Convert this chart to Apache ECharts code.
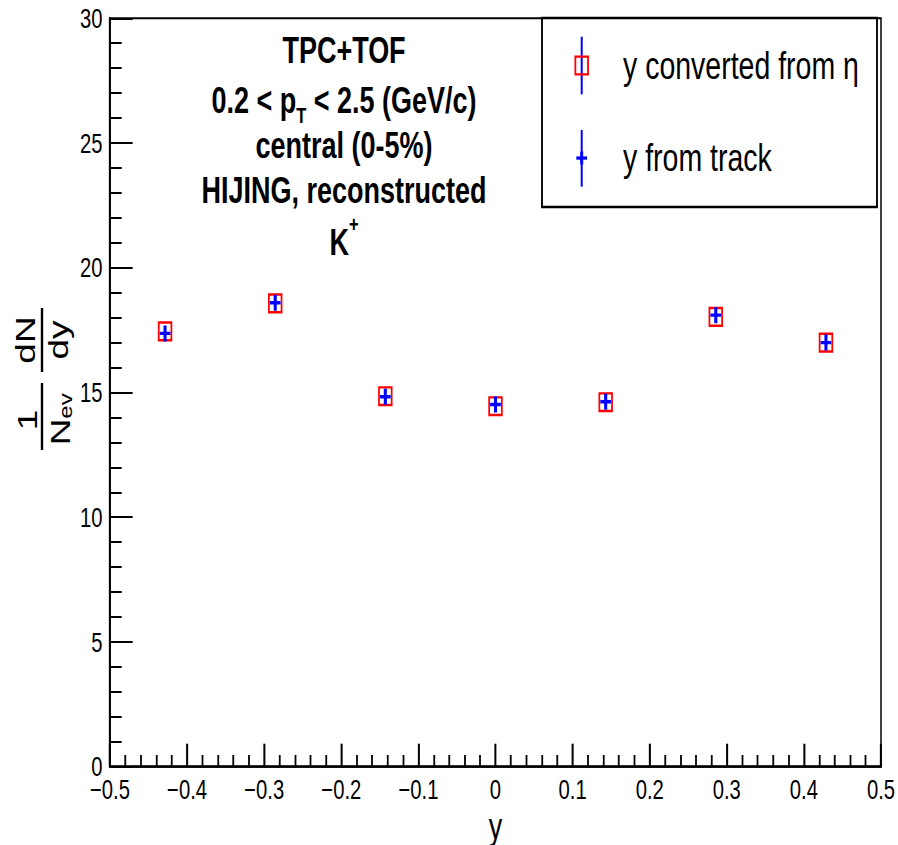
<!DOCTYPE html>
<html>
<head>
<meta charset="utf-8">
<script src="https://cdn.jsdelivr.net/npm/echarts@6/dist/echarts.min.js"></script>
<style>
  html, body { margin: 0; padding: 0; background: #fff; overflow: hidden; }
  #wrap { width: 898px; height: 845px; overflow: hidden; }
  #chart { transform: scaleX(0.75); transform-origin: 0 0; }
</style>
</head>
<body>
<div id="wrap"><div id="chart"></div></div>
<script>
// bin centres in rapidity (7 bins over -0.5..0.5)
const xBins = [-0.4286, -0.2857, -0.1429, 0, 0.1429, 0.2857, 0.4286];
// 1/N_ev dN/dy, rapidity converted from pseudorapidity
const yConverted = [17.45, 18.57, 14.85, 14.45, 14.61, 18.03, 17.0];
// 1/N_ev dN/dy, rapidity taken from the track
const yTrack = [17.37, 18.60, 14.83, 14.52, 14.63, 18.10, 17.0];

const seriesNames = ['y converted from \u03b7', 'y from track'];
const titleLines = ['TPC+TOF', 'central (0-5%)', 'HIJING, reconstructed'];

// the canvas is drawn wide and squeezed horizontally by S
const S = 0.75;
const W = 898 / S, H = 845;
const sx = v => v / S;

const FONT = '"Liberation Sans", Arial, Helvetica, sans-serif';

const el = document.getElementById('chart');
el.style.width = W + 'px';
el.style.height = H + 'px';
const chart = echarts.init(el, null, { renderer: 'svg', width: W, height: H });

const plusPath = 'path://M5,0 L9,0 L9,6.3 L14,6.3 L14,9.7 L9,9.7 L9,16 L5,16 L5,9.7 L0,9.7 L0,6.3 L5,6.3 Z';
const redBox = [16.9, 17.7];
const plusSize = [14.3, 16];

// ---- annotation block (centered) ----
const cx = sx(344);
const TS = 36, SUB = 22;
const graphics = [];
function centerText(str, y) {
  graphics.push({ type: 'text', x: cx, y: y, silent: true,
    style: { text: str, font: 'bold ' + TS + 'px ' + FONT, fill: '#000', align: 'center', verticalAlign: 'middle', lineHeight: 30 } });
}
centerText(titleLines[0], 51);
// 0.2 < p_T < 2.5 (GeV/c), subscript drawn as a rich-text token
graphics.push({ type: 'text', x: cx, y: 98, silent: true,
  style: {
    text: '{a|0.2 < p}{s|T}{a| < 2.5 (GeV/c)}',
    align: 'center', verticalAlign: 'middle',
    rich: {
      a: { font: 'bold ' + TS + 'px ' + FONT, fill: '#000', lineHeight: 30, verticalAlign: 'top' },
      s: { font: 'bold ' + SUB + 'px ' + FONT, fill: '#000', lineHeight: 16, verticalAlign: 'top', padding: [21, 0, 0, 0] }
    }
  } });
centerText(titleLines[1], 146);
centerText(titleLines[2], 191);
// K^+ with a raised plus
graphics.push({ type: 'text', x: cx, y: 228, silent: true,
  style: {
    text: '{k|K}{p|+}',
    align: 'center', verticalAlign: 'middle',
    rich: {
      k: { font: 'bold ' + TS + 'px ' + FONT, fill: '#000', lineHeight: 30, verticalAlign: 'top', padding: [12, 0, 0, 0] },
      p: { font: 'bold ' + SUB + 'px ' + FONT, fill: '#000', lineHeight: 16, verticalAlign: 'top' }
    }
  } });

// ---- legend box ----
const lg = { x: sx(542), y: 18, w: sx(877) - sx(542), h: 189 };
graphics.push({ type: 'rect', silent: true, z: 10,
  shape: { x: lg.x, y: lg.y, width: lg.w, height: lg.h },
  style: { fill: '#fff', stroke: '#000', lineWidth: 2.5 } });
const legMarkX = sx(581.7), legTextX = sx(623);
const legRows = [65.5, 158];
// row 1: open red square with blue error line
graphics.push({ type: 'line', silent: true, z: 11,
  shape: { x1: legMarkX, y1: 36.7, x2: legMarkX, y2: 94.3 },
  style: { stroke: '#0000ff', lineWidth: 2.7 } });
graphics.push({ type: 'rect', silent: true, z: 12,
  shape: { x: legMarkX - redBox[0] / 2, y: legRows[0] - redBox[1] / 2, width: redBox[0], height: redBox[1] },
  style: { fill: 'rgba(0,0,0,0)', stroke: '#ff0000', lineWidth: 2.4 } });
graphics.push({ type: 'text', x: legTextX, y: legRows[0], silent: true, z: 12,
  style: { text: seriesNames[0], font: '38px ' + FONT, fill: '#000', align: 'left', verticalAlign: 'middle' } });
// row 2: blue plus with blue error line
graphics.push({ type: 'line', silent: true, z: 11,
  shape: { x1: legMarkX, y1: 130, x2: legMarkX, y2: 186.7 },
  style: { stroke: '#0000ff', lineWidth: 2.7 } });
graphics.push({ type: 'rect', silent: true, z: 12,
  shape: { x: legMarkX - plusSize[0] / 2, y: legRows[1] - 1.6, width: plusSize[0], height: 3.3 },
  style: { fill: '#0000ff' } });
graphics.push({ type: 'rect', silent: true, z: 12,
  shape: { x: legMarkX - 2, y: legRows[1] - 6.5, width: 4, height: 13 },
  style: { fill: '#0000ff' } });
graphics.push({ type: 'text', x: legTextX, y: legRows[1], silent: true, z: 12,
  style: { text: seriesNames[1], font: '38px ' + FONT, fill: '#000', align: 'left', verticalAlign: 'middle' } });

// ---- y-axis title: 1/N_ev dN/dy, rotated ----
const YT = 37;
const yfont = YT + 'px ' + FONT;
graphics.push({ type: 'group', x: sx(42), y: 378, rotation: Math.PI / 2, silent: true,
  children: [
    { type: 'line', shape: { x1: -72, y1: 0, x2: -5, y2: 0 }, style: { stroke: '#000', lineWidth: 3.2 } },
    { type: 'text', x: -42, y: -20, style: { text: '1', font: yfont, fill: '#000', align: 'center', verticalAlign: 'middle' } },
    { type: 'text', x: -54, y: 24, style: { text: 'N', font: yfont, fill: '#000', align: 'center', verticalAlign: 'middle' } },
    { type: 'text', x: -28, y: 31, style: { text: 'ev', font: '24px ' + FONT, fill: '#000', align: 'center', verticalAlign: 'middle' } },
    { type: 'line', shape: { x1: 6, y1: 0, x2: 70, y2: 0 }, style: { stroke: '#000', lineWidth: 3.2 } },
    { type: 'text', x: 38, y: -22, style: { text: 'dN', font: yfont, fill: '#000', align: 'center', verticalAlign: 'middle' } },
    { type: 'text', x: 38, y: 21, style: { text: 'dy', font: yfont, fill: '#000', align: 'center', verticalAlign: 'middle' } }
  ] });

const xFmt = v => {
  if (Math.abs(v) < 1e-9) return '0';
  return (v < 0 ? '\u2212' : '') + Math.abs(v).toFixed(1);
};

chart.setOption({
  animation: false,
  backgroundColor: '#fff',
  grid: {
    left: sx(110), right: W - sx(881), top: 18.3, bottom: H - 766.7,
    outerBoundsMode: 'none', containLabel: false,
    show: true, borderColor: '#000', borderWidth: 2, backgroundColor: 'transparent'
  },
  xAxis: {
    type: 'value', min: -0.5, max: 0.5, interval: 0.1,
    name: 'y', nameLocation: 'middle', nameGap: 36,
    nameTextStyle: { fontSize: 36, fontFamily: FONT, color: '#000', lineHeight: 26 },
    axisLine: { show: true, onZero: false, lineStyle: { color: '#000', width: 2.6 } },
    axisTick: { show: true, inside: true, length: 23, lineStyle: { color: '#000', width: 2.7 } },
    minorTick: { show: true, splitNumber: 5, length: 11.7, lineStyle: { color: '#000', width: 2.4 } },
    axisLabel: { formatter: xFmt, fontSize: 27, fontFamily: FONT, color: '#000', margin: 15, lineHeight: 16 },
    splitLine: { show: false }
  },
  yAxis: {
    type: 'value', min: 0, max: 30, interval: 5,
    axisLine: { show: true, onZero: false, lineStyle: { color: '#000', width: 2.7 } },
    axisTick: { show: true, inside: true, length: 30.2, lineStyle: { color: '#000', width: 2 } },
    minorTick: { show: true, splitNumber: 5, length: 15.6, lineStyle: { color: '#000', width: 2 } },
    axisLabel: { fontSize: 27, fontFamily: FONT, color: '#000', margin: 10, lineHeight: 16 },
    splitLine: { show: false }
  },
  series: [
    {
      name: seriesNames[0], type: 'scatter', silent: true, z: 3,
      symbol: 'rect', symbolSize: redBox,
      itemStyle: { color: 'rgba(0,0,0,0)', borderColor: '#ff0000', borderWidth: 2.4, opacity: 1 },
      data: xBins.map((x, i) => [x, yConverted[i]])
    },
    {
      name: seriesNames[1], type: 'scatter', silent: true, z: 4,
      symbol: plusPath, symbolSize: plusSize,
      itemStyle: { color: '#0000ff', opacity: 1 },
      data: xBins.map((x, i) => [x, yTrack[i]])
    }
  ],
  graphic: graphics
});
</script>
</body>
</html>
